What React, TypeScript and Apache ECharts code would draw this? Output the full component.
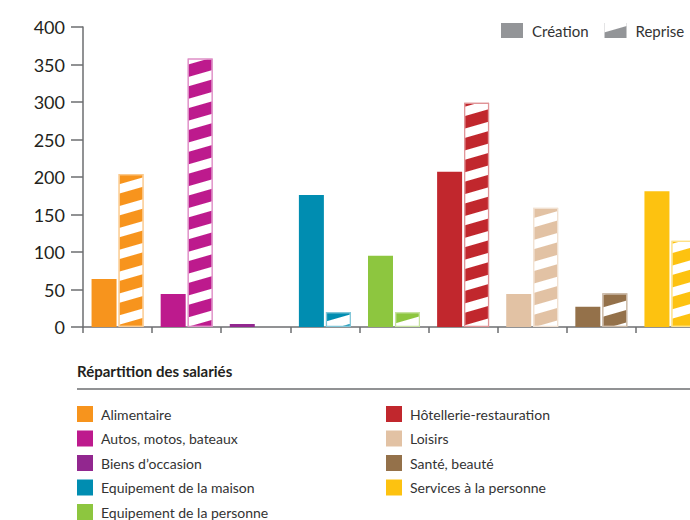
import React, { useEffect, useRef } from "react";
import * as echarts from "echarts";

const categories = [
  "Alimentaire",
  "Autos, motos, bateaux",
  "Biens d’occasion",
  "Equipement de la maison",
  "Equipement de la personne",
  "Hôtellerie-restauration",
  "Loisirs",
  "Santé, beauté",
  "Services à la personne",
];
const creation = [64, 44, 4, 176, 95, 207, 44, 27, 181];
const reprise = [204, 358, 0, 20, 20, 299, 159, 45, 115];
const seriesNames = ["Création", "Reprise"];
const yMin = 0;
const yMax = 400;
const yInterval = 50;
const legendTitle = "Répartition des salariés";

const colors = [
  "#f7941d",
  "#bd1a8d",
  "#92278f",
  "#008db1",
  "#8dc63f",
  "#c1272d",
  "#e2c2a4",
  "#94714a",
  "#fdc210",
];
const legendGrey = "#939598";
const FONT = "Lato, 'Open Sans', sans-serif";

const decal = {
  symbol: "rect",
  symbolSize: 1,
  color: "#ffffff",
  dashArrayX: [1, 0],
  dashArrayY: [9, 12],
  rotation: -0.28,
};

function tint(hex: string, t: number) {
  const n = parseInt(hex.slice(1), 16);
  const r = (n >> 16) & 255, g = (n >> 8) & 255, b = n & 255;
  const m = (c: number) => Math.round(c + (255 - c) * t);
  return `rgb(${m(r)},${m(g)},${m(b)})`;
}

export default function App() {
  const ref = useRef<HTMLDivElement>(null);
  useEffect(() => {
    document.body.style.margin = "0";
    const chart = echarts.init(ref.current!, null, { renderer: "svg" });

    const legendGraphics: any[] = [];
    categories.forEach((name, i) => {
      const col = i < 5 ? 0 : 1;
      const row = i < 5 ? i : i - 5;
      const x0 = col === 0 ? 77 : 386;
      const yc = 414 + row * 24.5;
      legendGraphics.push({
        type: "rect",
        shape: { x: x0, y: yc - 8, width: 16, height: 16 },
        style: { fill: colors[i] },
      });
      legendGraphics.push({
        type: "text",
        x: x0 + 24,
        y: yc,
        style: {
          text: name,
          font: `14px ${FONT}`,
          fill: "#333333",
          verticalAlign: "middle",
        },
      });
    });

    chart.setOption({
      animation: false,
      textStyle: { fontFamily: FONT },
      grid: { left: 83, right: 5, top: 27, height: 300 },
      legend: {
        data: seriesNames,
        left: 501,
        top: 23,
        padding: 0,
        width: 300,
        orient: "horizontal",
        icon: "rect",
        itemWidth: 22,
        itemHeight: 15,
        itemGap: 16,
        textStyle: { fontSize: 15, color: "#333333", padding: [0, 0, 0, 4] },
      },
      xAxis: {
        type: "category",
        data: categories,
        axisLine: { lineStyle: { color: "#6d6e71", width: 1.5 } },
        axisTick: { show: true, interval: 0, length: 6, lineStyle: { color: "#6d6e71", width: 1.5 } },
        axisLabel: { show: false },
      },
      yAxis: {
        type: "value",
        min: yMin,
        max: yMax,
        interval: yInterval,
        splitLine: { show: false },
        axisLine: { show: true, lineStyle: { color: "#6d6e71", width: 1.5 } },
        axisTick: { show: true, length: 12, lineStyle: { color: "#6d6e71", width: 1.5 } },
        axisLabel: { fontSize: 18, color: "#231f20", margin: 18 },
      },
      series: [
        {
          name: seriesNames[0],
          type: "bar",
          barWidth: 25,
          barGap: "8%",
          itemStyle: { color: legendGrey },
          data: creation.map((v, i) => ({ value: v, itemStyle: { color: colors[i] } })),
        },
        {
          name: seriesNames[1],
          type: "bar",
          barWidth: 25,
          barGap: "8%",
          itemStyle: { color: legendGrey, decal },
          data: reprise.map((v, i) => ({
            value: v,
            itemStyle: {
              color: colors[i],
              borderColor: tint(colors[i], 0.5),
              borderWidth: v > 0 ? 1.2 : 0,
              decal,
            },
          })),
        },
      ],
      graphic: [
        {
          type: "text",
          x: 77,
          y: 371,
          style: {
            text: legendTitle,
            font: `bold 15px ${FONT}`,
            fill: "#231f20",
            verticalAlign: "middle",
          },
        },
        {
          type: "line",
          shape: { x1: 77, y1: 389, x2: 690, y2: 389 },
          style: { stroke: "#6d6e71", lineWidth: 1.5 },
        },
        ...legendGraphics,
      ],
    });
    return () => chart.dispose();
  }, []);
  return (
    <div style={{ width: 690, height: 520, overflow: "hidden", position: "relative" }}>
      <div ref={ref} style={{ width: 710, height: 520 }} />
    </div>
  );
}
